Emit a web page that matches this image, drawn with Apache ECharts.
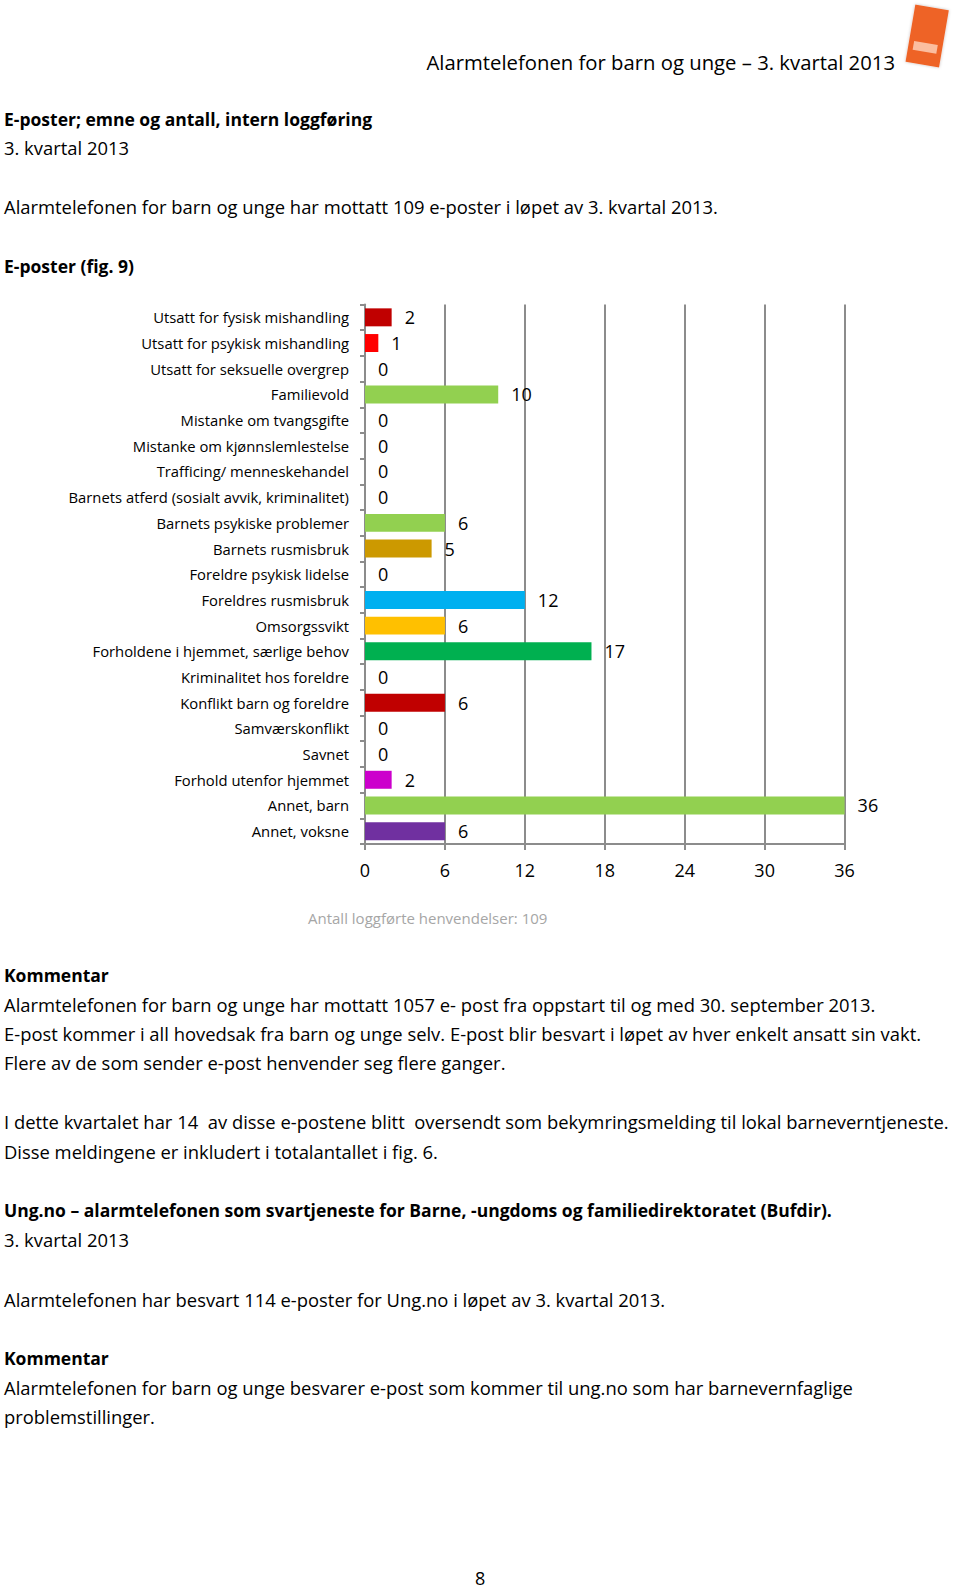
<!DOCTYPE html>
<html>
<head>
<meta charset="utf-8">
<script src="https://cdn.jsdelivr.net/npm/echarts@6/dist/echarts.min.js"></script>
<style>
  html, body { margin: 0; padding: 0; background: #fff; }
  #page { position: relative; width: 960px; height: 1589px; overflow: hidden; font-family: "Open Sans", Lato, sans-serif; color: #000; }
  #chart { position: absolute; left: 0; top: 0; width: 960px; height: 1589px; }
  .t { position: absolute; left: 4px; white-space: nowrap; font-size: 18.4px; line-height: 24px; height: 24px; z-index: 2; }
  .b { font-weight: bold; font-size: 17.5px; }
</style>
</head>
<body>
<div id="page">
  <div id="chart"></div>
  <div class="t" style="left:auto; right:65px; top:48px; font-size:20.3px; line-height:28px; height:28px;">Alarmtelefonen for barn og unge – 3. kvartal 2013</div>
  <div class="t b" style="top:107px;">E-poster; emne og antall, intern loggføring</div>
  <div class="t" style="top:136px;">3. kvartal 2013</div>
  <div class="t" style="top:195px;">Alarmtelefonen for barn og unge har mottatt 109 e-poster i løpet av 3. kvartal 2013.</div>
  <div class="t b" style="top:254px;">E-poster (fig. 9)</div>

  <div class="t b" style="top:963px;">Kommentar</div>
  <div class="t" style="top:993px;">Alarmtelefonen for barn og unge har mottatt 1057 e- post fra oppstart til og med 30. september 2013.</div>
  <div class="t" style="top:1022px;">E-post kommer i all hovedsak fra barn og unge selv. E-post blir besvart i løpet av hver enkelt ansatt sin vakt.</div>
  <div class="t" style="top:1051px;">Flere av de som sender e-post henvender seg flere ganger.</div>
  <div class="t" style="top:1110px;">I dette kvartalet har 14&nbsp; av disse e-postene blitt&nbsp; oversendt som bekymringsmelding til lokal barneverntjeneste.</div>
  <div class="t" style="top:1140px;">Disse meldingene er inkludert i totalantallet i fig. 6.</div>
  <div class="t b" style="top:1198px;">Ung.no – alarmtelefonen som svartjeneste for Barne, -ungdoms og familiedirektoratet (Bufdir).</div>
  <div class="t" style="top:1228px;">3. kvartal 2013</div>
  <div class="t" style="top:1288px;">Alarmtelefonen har besvart 114 e-poster for Ung.no i løpet av 3. kvartal 2013.</div>
  <div class="t b" style="top:1346px;">Kommentar</div>
  <div class="t" style="top:1376px;">Alarmtelefonen for barn og unge besvarer e-post som kommer til ung.no som har barnevernfaglige</div>
  <div class="t" style="top:1405px;">problemstillinger.</div>
  <div class="t" style="left:475px; top:1568px; font-size:18px; line-height:20px; height:20px;">8</div>
</div>
<script>
const categories = [
  'Utsatt for fysisk mishandling',
  'Utsatt for psykisk mishandling',
  'Utsatt for seksuelle overgrep',
  'Familievold',
  'Mistanke om tvangsgifte',
  'Mistanke om kjønnslemlestelse',
  'Trafficing/ menneskehandel',
  'Barnets atferd (sosialt avvik, kriminalitet)',
  'Barnets psykiske problemer',
  'Barnets rusmisbruk',
  'Foreldre psykisk lidelse',
  'Foreldres rusmisbruk',
  'Omsorgssvikt',
  'Forholdene i hjemmet, særlige behov',
  'Kriminalitet hos foreldre',
  'Konflikt barn og foreldre',
  'Samværskonflikt',
  'Savnet',
  'Forhold utenfor hjemmet',
  'Annet, barn',
  'Annet, voksne'
];
const values = [2, 1, 0, 10, 0, 0, 0, 0, 6, 5, 0, 12, 6, 17, 0, 6, 0, 0, 2, 36, 6];
const barColors = [
  '#C00000', '#FF0000', '#92D050', '#92D050', '#92D050', '#92D050', '#92D050', '#92D050',
  '#92D050', '#CC9900', '#92D050', '#00B0F0', '#FFC000', '#00B050', '#92D050', '#C00000',
  '#92D050', '#92D050', '#CC00CC', '#92D050', '#7030A0'
];
const xTicks = [0, 6, 12, 18, 24, 30, 36];
const caption = 'Antall loggførte henvendelser: 109';

const FONT = '"Open Sans", Lato, sans-serif';
const chart = echarts.init(document.getElementById('chart'), null, { renderer: 'svg' });
chart.setOption({
  animation: false,
  backgroundColor: '#fff',
  textStyle: { fontFamily: FONT },
  grid: { left: 365, right: 115.4, top: 304.5, bottom: 745, containLabel: false },
  xAxis: {
    type: 'value',
    min: xTicks[0],
    max: xTicks[xTicks.length - 1],
    interval: xTicks[1] - xTicks[0],
    axisLine: { show: true, lineStyle: { color: '#8C8C8C', width: 2 } },
    axisTick: { show: true, length: 6, lineStyle: { color: '#8C8C8C', width: 2 } },
    splitLine: { show: true, lineStyle: { color: '#8C8C8C', width: 2 } },
    axisLabel: { color: '#000', fontSize: 18, margin: 17, fontFamily: FONT }
  },
  yAxis: {
    type: 'category',
    inverse: true,
    data: categories,
    axisLine: { show: true, lineStyle: { color: '#8C8C8C', width: 2 } },
    axisTick: { show: true, length: 5, lineStyle: { color: '#8C8C8C', width: 2 } },
    axisLabel: { color: '#000', fontSize: 14.8, margin: 16, fontFamily: FONT }
  },
  graphic: [
    {
      type: 'text',
      left: 308, top: 910,
      style: { text: caption, fill: '#A6A6A6', font: '15px ' + FONT }
    },
    {
      type: 'rect',
      x: 927, y: 37, rotation: -0.17,
      shape: { x: -17, y: -30, width: 34, height: 58 },
      style: { fill: '#EE6426', shadowBlur: 3, shadowColor: 'rgba(0,0,0,0.25)' }
    },
    {
      type: 'rect',
      x: 927, y: 37, rotation: -0.17,
      shape: { x: -12, y: 6, width: 24, height: 9 },
      style: { fill: 'rgba(255,220,200,0.75)' }
    }
  ],
  series: [{
    type: 'bar',
    barCategoryGap: '30%',
    data: values.map((v, i) => ({ value: v, itemStyle: { color: barColors[i] } })),
    label: { show: true, position: 'right', distance: 13, color: '#000', fontSize: 18, fontFamily: FONT }
  }]
});
</script>
</body>
</html>
